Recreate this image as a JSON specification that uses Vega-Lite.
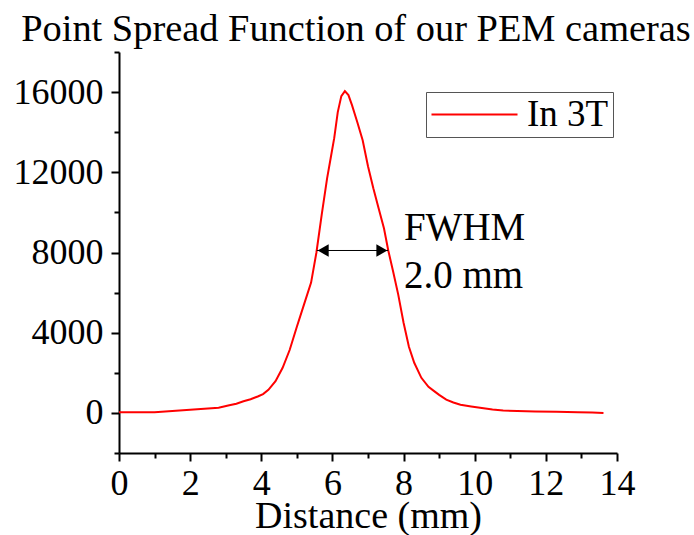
{
  "$schema": "https://vega.github.io/schema/vega-lite/v6.json",
  "width": 498,
  "height": 401,
  "autosize": {"type": "none"},
  "padding": {"left": 119, "top": 52, "right": 77, "bottom": 82},
  "background": "white",
  "config": {
    "view": {"stroke": null},
    "font": "Liberation Serif"
  },
  "title": {
    "text": "Point Spread Function of our PEM cameras",
    "font": "Liberation Serif",
    "fontSize": 38.4,
    "fontWeight": "normal",
    "color": "black",
    "anchor": "middle",
    "frame": "group",
    "baseline": "bottom",
    "dx": -12,
    "dy": 58,
    "offset": 5
  },
  "encoding": {
    "x": {
      "field": "x",
      "type": "quantitative",
      "scale": {"domain": [0, 14], "nice": false, "zero": false},
      "axis": {
        "title": "Distance (mm)",
        "titleFont": "Liberation Serif",
        "titleFontSize": 38,
        "titleFontWeight": "normal",
        "titleColor": "black",
        "titlePadding": -4,
        "values": [0, 1, 2, 3, 4, 5, 6, 7, 8, 9, 10, 11, 12, 13, 14],
        "labelExpr": "datum.value % 2 == 0 ? datum.label : ''",
        "labelFont": "Liberation Serif",
        "labelFontSize": 36,
        "labelColor": "black",
        "labelPadding": 5,
        "labelFlush": false,
        "labelOverlap": false,
        "domainColor": "black",
        "domainWidth": 2,
        "tickColor": "black",
        "tickWidth": 2,
        "tickSize": {"condition": {"test": "datum.value % 2 == 0", "value": 8}, "value": 5},
        "grid": false
      }
    },
    "y": {
      "field": "y",
      "type": "quantitative",
      "scale": {"domain": [-2000, 18000], "nice": false, "zero": false},
      "axis": {
        "title": null,
        "values": [-2000, 0, 2000, 4000, 6000, 8000, 10000, 12000, 14000, 16000, 18000],
        "labelExpr": "datum.value % 4000 == 0 ? format(datum.value, 'd') : ''",
        "labelFont": "Liberation Serif",
        "labelFontSize": 36,
        "labelColor": "black",
        "labelPadding": 8,
        "labelFlush": false,
        "labelOverlap": false,
        "domainColor": "black",
        "domainWidth": 2,
        "tickColor": "black",
        "tickWidth": 2,
        "tickSize": {"condition": {"test": "datum.value % 4000 == 0", "value": 8}, "value": 5},
        "grid": false
      }
    }
  },
  "layer": [
    {
      "data": {
        "values": [
          {"x": 0.0, "y": 30, "series": "In 3T"},
          {"x": 0.5, "y": 30, "series": "In 3T"},
          {"x": 1.0, "y": 35, "series": "In 3T"},
          {"x": 1.4, "y": 80, "series": "In 3T"},
          {"x": 2.0, "y": 160, "series": "In 3T"},
          {"x": 2.5, "y": 220, "series": "In 3T"},
          {"x": 2.8, "y": 260, "series": "In 3T"},
          {"x": 3.1, "y": 380, "series": "In 3T"},
          {"x": 3.3, "y": 460, "series": "In 3T"},
          {"x": 3.5, "y": 580, "series": "In 3T"},
          {"x": 3.7, "y": 680, "series": "In 3T"},
          {"x": 3.9, "y": 820, "series": "In 3T"},
          {"x": 4.05, "y": 940, "series": "In 3T"},
          {"x": 4.2, "y": 1150, "series": "In 3T"},
          {"x": 4.4, "y": 1580, "series": "In 3T"},
          {"x": 4.6, "y": 2250, "series": "In 3T"},
          {"x": 4.8, "y": 3150, "series": "In 3T"},
          {"x": 5.0, "y": 4300, "series": "In 3T"},
          {"x": 5.2, "y": 5400, "series": "In 3T"},
          {"x": 5.4, "y": 6500, "series": "In 3T"},
          {"x": 5.55, "y": 8000, "series": "In 3T"},
          {"x": 5.7, "y": 9900, "series": "In 3T"},
          {"x": 5.85, "y": 11700, "series": "In 3T"},
          {"x": 5.95, "y": 12700, "series": "In 3T"},
          {"x": 6.05, "y": 13700, "series": "In 3T"},
          {"x": 6.15, "y": 15000, "series": "In 3T"},
          {"x": 6.25, "y": 15800, "series": "In 3T"},
          {"x": 6.35, "y": 16050, "series": "In 3T"},
          {"x": 6.45, "y": 15850, "series": "In 3T"},
          {"x": 6.55, "y": 15350, "series": "In 3T"},
          {"x": 6.7, "y": 14500, "series": "In 3T"},
          {"x": 6.85, "y": 13600, "series": "In 3T"},
          {"x": 7.0, "y": 12300, "series": "In 3T"},
          {"x": 7.15, "y": 11200, "series": "In 3T"},
          {"x": 7.3, "y": 10200, "series": "In 3T"},
          {"x": 7.45, "y": 9200, "series": "In 3T"},
          {"x": 7.57, "y": 8100, "series": "In 3T"},
          {"x": 7.7, "y": 7100, "series": "In 3T"},
          {"x": 7.85, "y": 5900, "series": "In 3T"},
          {"x": 8.0, "y": 4500, "series": "In 3T"},
          {"x": 8.15, "y": 3300, "series": "In 3T"},
          {"x": 8.3, "y": 2500, "series": "In 3T"},
          {"x": 8.5, "y": 1750, "series": "In 3T"},
          {"x": 8.7, "y": 1300, "series": "In 3T"},
          {"x": 8.85, "y": 1100, "series": "In 3T"},
          {"x": 9.0, "y": 900, "series": "In 3T"},
          {"x": 9.2, "y": 660, "series": "In 3T"},
          {"x": 9.4, "y": 520, "series": "In 3T"},
          {"x": 9.6, "y": 410, "series": "In 3T"},
          {"x": 9.9, "y": 320, "series": "In 3T"},
          {"x": 10.2, "y": 240, "series": "In 3T"},
          {"x": 10.5, "y": 170, "series": "In 3T"},
          {"x": 10.8, "y": 115, "series": "In 3T"},
          {"x": 11.2, "y": 100, "series": "In 3T"},
          {"x": 11.7, "y": 75, "series": "In 3T"},
          {"x": 12.3, "y": 60, "series": "In 3T"},
          {"x": 12.9, "y": 30, "series": "In 3T"},
          {"x": 13.3, "y": 20, "series": "In 3T"},
          {"x": 13.62, "y": 0, "series": "In 3T"}
        ]
      },
      "mark": {"type": "line", "strokeWidth": 2},
      "encoding": {
        "color": {
          "field": "series",
          "type": "nominal",
          "scale": {"range": ["#ff0000"]},
          "legend": {
            "title": null,
            "orient": "none",
            "legendX": 307,
            "legendY": 40,
            "fillColor": "white",
            "strokeColor": "#555555",
            "padding": 4,
            "symbolType": "stroke",
            "symbolSize": 7400,
            "symbolStrokeWidth": 2,
            "clipHeight": 37,
            "labelFont": "Liberation Serif",
            "labelFontSize": 37,
            "labelColor": "black",
            "labelOffset": 8
          }
        }
      }
    },
    {
      "data": {"values": [{"x": 5.56, "x2": 7.57, "y": 8100}]},
      "mark": {"type": "rule", "color": "black", "strokeWidth": 1},
      "encoding": {"x2": {"field": "x2"}}
    },
    {
      "data": {
        "values": [
          {"x": 5.74, "y": 8100, "dir": "left"},
          {"x": 7.39, "y": 8100, "dir": "right"}
        ]
      },
      "mark": {"type": "point", "filled": true, "color": "black", "size": 160, "opacity": 1},
      "encoding": {
        "shape": {
          "field": "dir",
          "type": "nominal",
          "scale": {"domain": ["left", "right"], "range": ["triangle-left", "triangle-right"]},
          "legend": null
        }
      }
    },
    {
      "data": {
        "values": [
          {"x": 8.01, "y": 8640, "label": "FWHM"},
          {"x": 8.01, "y": 6250, "label": "2.0 mm"}
        ]
      },
      "mark": {"type": "text", "align": "left", "baseline": "alphabetic", "font": "Liberation Serif", "fontSize": 39, "color": "black"},
      "encoding": {"text": {"field": "label"}}
    }
  ]
}
